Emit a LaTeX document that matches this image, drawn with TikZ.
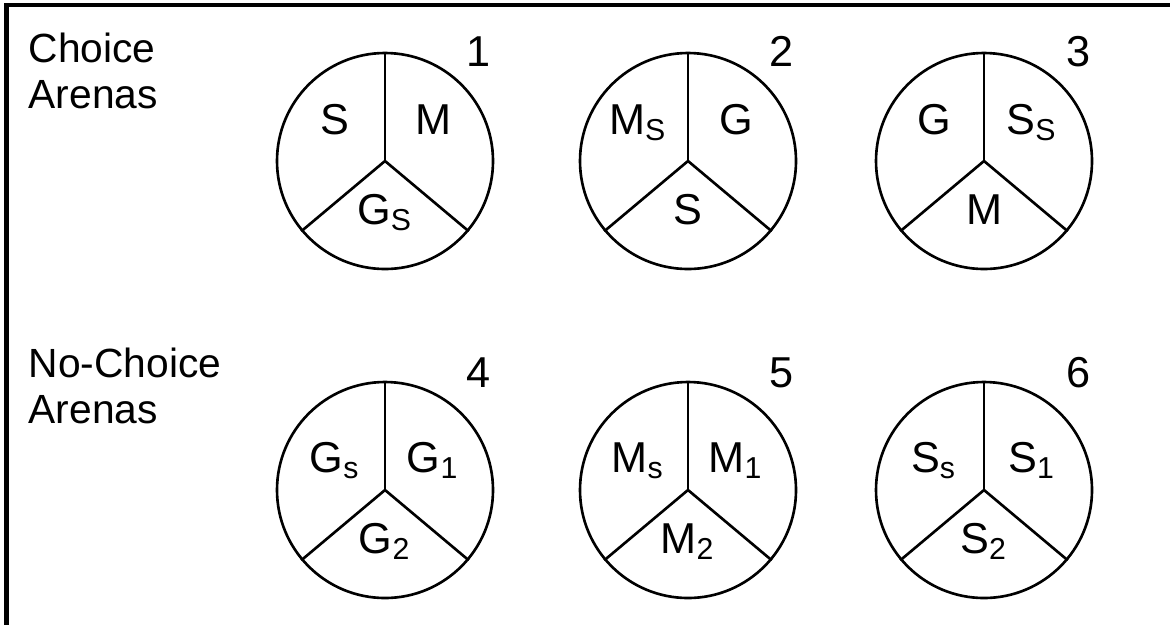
\documentclass[tikz,border=0pt]{standalone}
\usepackage{fontspec}
\setmainfont{Liberation Sans}
\usetikzlibrary{positioning}

\begin{document}
\begin{tikzpicture}
  \tikzset{arena/.style = {shape=circle,draw,line width=0.75pt,minimum size=2.16cm,inner sep=0pt}}
  \tikzset{spoke/.style = {line width=0.75pt}}
  \tikzset{part/.style = {anchor=base,inner sep=0pt,font=\fontsize{12.3}{14}\selectfont}}
  \tikzset{heading/.style = {anchor=base west,inner sep=0pt,font=\fontsize{11.6}{13}\selectfont}}

  \useasboundingbox (0,0) rectangle (11.70,6.25);

  % frame: top and left edge only
  \coordinate (TL) at (0.065,6.20);
  \coordinate (TR) at (11.70,6.20);
  \coordinate (BL) at (0.065,0);
  \draw[line width=1.2pt] (TR) -- (TL) -- (BL);

  \node[heading] (choice) at (0.28,5.63) {Choice};
  \node[heading] (arenasA) at ([yshift=-0.46cm]choice.base west) {Arenas};
  \node[heading] (nochoice) at (0.28,2.48) {No-Choice};
  \node[heading] (arenasB) at ([yshift=-0.46cm]nochoice.base west) {Arenas};

  \foreach \n/\x/\y/\up/\nb/\lt/\rt/\bt in {
    1/3.85/4.64/0.27/0.95/S/M/G\textsubscript{S},
    2/6.88/4.64/0.27/0.95/M\textsubscript{S}/G/S,
    3/9.84/4.64/0.27/0.95/G/S\textsubscript{S}/M,
    4/3.85/1.35/0.18/1.03/G\textsubscript{s}/G\textsubscript{1}/G\textsubscript{2},
    5/6.88/1.35/0.18/1.03/M\textsubscript{s}/M\textsubscript{1}/M\textsubscript{2},
    6/9.84/1.35/0.18/1.03/S\textsubscript{s}/S\textsubscript{1}/S\textsubscript{2}}
  {
    \node[arena] (a\n) at (\x,\y) {};
    \draw[spoke] (a\n.center) -- (a\n.north);
    \draw[spoke] (a\n.center) -- (a\n.220);
    \draw[spoke] (a\n.center) -- (a\n.-40);
    \node[part] (l\n) at ([shift={(-0.50,\up)}]a\n.center) {\lt};
    \node[part] (r\n) at ([shift={(0.48,\up)}]a\n.center) {\rt};
    \node[part] (b\n) at ([shift={(0,-0.63)}]a\n.center) {\bt};
    \node[part] (n\n) at ([shift={(0.94,\nb)}]a\n.center) {\n};
  }

\end{tikzpicture}
\end{document}
